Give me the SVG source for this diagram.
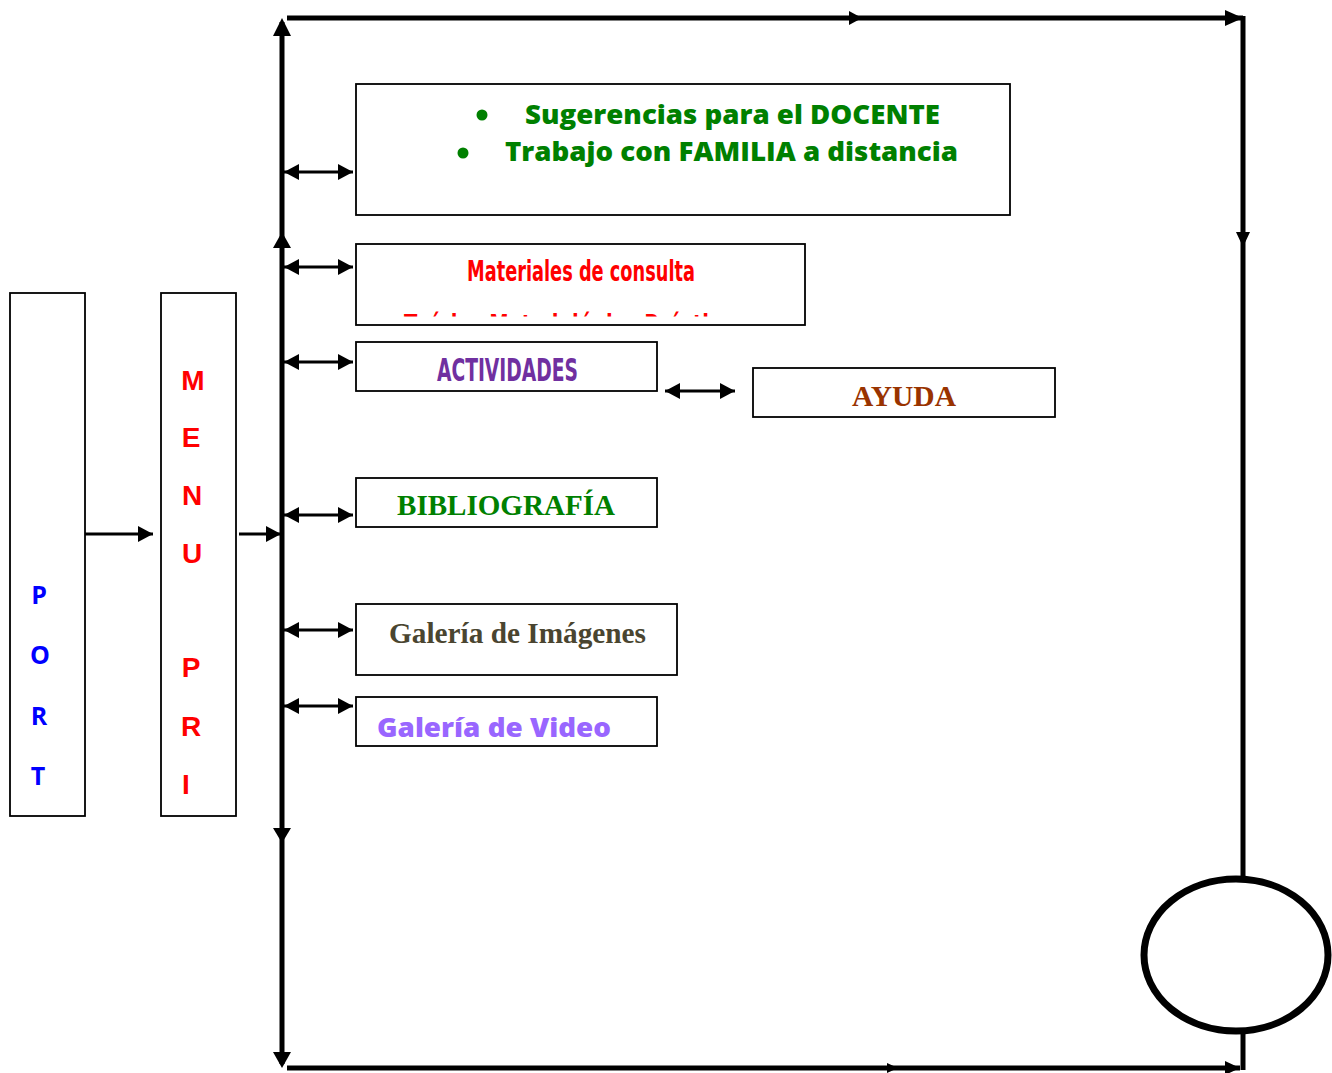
<svg xmlns="http://www.w3.org/2000/svg" width="1332" height="1073" viewBox="0 0 1332 1073">
  <style>
    .box { fill: #ffffff; stroke: #000000; stroke-width: 1.8; }
    .bus { fill: none; stroke: #000000; stroke-width: 5; }
    .link { fill: none; stroke: #000000; stroke-width: 3; }
    .head { fill: #000000; }
    .sans { font-family: "Liberation Sans", Arial, sans-serif; font-weight: bold; }
    .calib { font-family: "Open Sans", "Noto Sans", sans-serif; font-weight: 700; }
    .round { font-family: "Open Sans", "Noto Sans", sans-serif; font-weight: 800; }
    .cond { font-family: "Liberation Sans Narrow", "DejaVu Sans Condensed", "Liberation Sans", sans-serif; font-weight: bold; font-stretch: condensed; }
    .serif { font-family: "Liberation Serif", "Times New Roman", serif; font-weight: bold; }
  </style>
  <defs>
    <marker id="ah" viewBox="0 0 15 16" refX="15" refY="8" markerWidth="15" markerHeight="16" markerUnits="userSpaceOnUse" orient="auto-start-reverse">
      <path d="M0,0 L15,8 L0,16 Z" fill="#000000"/>
    </marker>
    <clipPath id="clipMat">
      <rect x="357" y="245" width="447" height="71.5"/>
    </clipPath>
  </defs>

  <!-- main frame of the navigation loop -->
  <g id="connectors">
    <line class="bus" x1="282" y1="22" x2="282" y2="1064"/>
    <line class="bus" x1="287" y1="18" x2="1243" y2="18"/>
    <line class="bus" x1="1243" y1="16" x2="1243" y2="880"/>
    <line class="bus" x1="1243" y1="1030" x2="1243" y2="1070"/>
    <line class="bus" x1="287" y1="1068" x2="1240" y2="1068"/>

    <!-- arrowheads on the frame -->
    <polygon class="head" points="282,18 273,36 291,36"/>
    <polygon class="head" points="282,232 273,248 291,248"/>
    <polygon class="head" points="282,843 273,828 291,828"/>
    <polygon class="head" points="282,1068 273,1052 291,1052"/>
    <polygon class="head" points="862,18 849,11 849,25"/>
    <polygon class="head" points="1243,18 1225,10 1225,26"/>
    <polygon class="head" points="1243,247 1236,232 1250,232"/>
    <polygon class="head" points="898,1068 887,1063 887,1073"/>
    <polygon class="head" points="1240,1068 1225,1061 1225,1075"/>

    <!-- PORT to MENU, MENU to frame -->
    <line class="link" x1="81" y1="534" x2="153" y2="534" marker-end="url(#ah)"/>
    <line class="link" x1="239" y1="534" x2="281" y2="534" marker-end="url(#ah)"/>

    <!-- two-way links to each section -->
    <line class="link" x1="284" y1="172" x2="353" y2="172" marker-start="url(#ah)" marker-end="url(#ah)"/>
    <line class="link" x1="284" y1="267" x2="353" y2="267" marker-start="url(#ah)" marker-end="url(#ah)"/>
    <line class="link" x1="284" y1="362" x2="353" y2="362" marker-start="url(#ah)" marker-end="url(#ah)"/>
    <line class="link" x1="284" y1="515" x2="353" y2="515" marker-start="url(#ah)" marker-end="url(#ah)"/>
    <line class="link" x1="284" y1="630" x2="353" y2="630" marker-start="url(#ah)" marker-end="url(#ah)"/>
    <line class="link" x1="284" y1="706" x2="353" y2="706" marker-start="url(#ah)" marker-end="url(#ah)"/>
    <line class="link" x1="665" y1="391" x2="735" y2="391" marker-start="url(#ah)" marker-end="url(#ah)"/>
  </g>

  <g id="port">
    <rect class="box" x="10" y="293" width="75" height="523"/>
    <g class="calib" fill="#0000FF" font-size="25" text-anchor="middle">
      <text x="39" y="604">P</text>
      <text x="40" y="664">O</text>
      <text x="39" y="725">R</text>
      <text x="38" y="785">T</text>
    </g>
  </g>

  <g id="menu">
    <rect class="box" x="161" y="293" width="75" height="523"/>
    <g class="sans" fill="#FF0000" font-size="28" text-anchor="middle">
      <text x="193" y="390">M</text>
      <text x="191" y="447">E</text>
      <text x="192" y="505">N</text>
      <text x="192" y="563">U</text>
      <text x="191" y="677">P</text>
      <text x="191" y="736">R</text>
      <text x="186" y="794">I</text>
    </g>
  </g>

  <g id="docente">
    <rect class="box" x="356" y="84" width="654" height="131"/>
    <circle cx="482" cy="115" r="5.5" fill="#008000"/>
    <circle cx="463" cy="153" r="5.5" fill="#008000"/>
    <g class="round" fill="#008000" font-size="27">
      <text x="525" y="124" textLength="415" lengthAdjust="spacingAndGlyphs">Sugerencias para el DOCENTE</text>
      <text x="505" y="161" textLength="453" lengthAdjust="spacingAndGlyphs">Trabajo con FAMILIA a distancia</text>
    </g>
  </g>

  <g id="materiales">
    <rect class="box" x="356" y="244" width="449" height="81"/>
    <g class="cond" fill="#FF0000">
      <text x="467" y="281" font-size="29" textLength="228" lengthAdjust="spacingAndGlyphs">Materiales de consulta</text>
      <text x="404" y="335" font-size="28" textLength="330" lengthAdjust="spacingAndGlyphs" clip-path="url(#clipMat)">Teórico   Metodológico   Práctico</text>
    </g>
  </g>

  <g id="actividades">
    <rect class="box" x="356" y="342" width="301" height="49"/>
    <text class="cond" x="437" y="381" font-size="32" fill="#7030A0" textLength="141" lengthAdjust="spacingAndGlyphs">ACTIVIDADES</text>
  </g>

  <g id="ayuda">
    <rect class="box" x="753" y="368" width="302" height="49"/>
    <text class="serif" x="852" y="406" font-size="29" fill="#993300" textLength="104" lengthAdjust="spacingAndGlyphs">AYUDA</text>
  </g>

  <g id="bibliografia">
    <rect class="box" x="356" y="478" width="301" height="49"/>
    <text class="serif" x="397" y="515" font-size="29" fill="#008000" textLength="218" lengthAdjust="spacingAndGlyphs">BIBLIOGRAFÍA</text>
  </g>

  <g id="galeria-imagenes">
    <rect class="box" x="356" y="604" width="321" height="71"/>
    <text class="serif" x="389" y="643" font-size="29" fill="#4A4530" textLength="257" lengthAdjust="spacingAndGlyphs">Galería de Imágenes</text>
  </g>

  <g id="galeria-video">
    <rect class="box" x="356" y="697" width="301" height="49"/>
    <text class="round" x="377" y="737" font-size="27" fill="#9966FF" textLength="234" lengthAdjust="spacingAndGlyphs">Galería de Video</text>
  </g>

  <g id="salida">
    <ellipse cx="1236" cy="955" rx="92" ry="76" fill="#ffffff" stroke="#000000" stroke-width="7"/>
  </g>
</svg>
